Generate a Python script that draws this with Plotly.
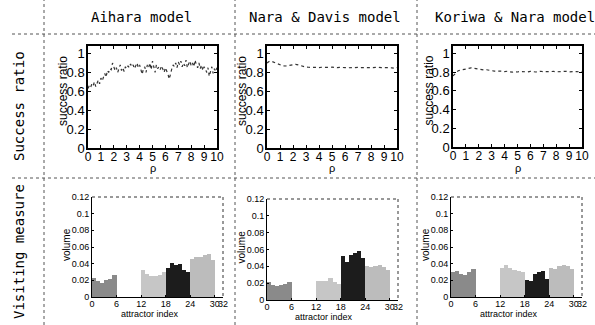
import plotly.graph_objects as go

W, H = 595, 325

MODELS = ["Aihara model", "Nara & Davis model", "Koriwa & Nara model"]
ROW_LABELS = ["Success ratio", "Visiting measure"]

# success ratio vs rho (sampled from p = 0 with fixed step)
P_STEP_AIHARA = 0.1
SR_AIHARA = [
    0.63, 0.66, 0.64, 0.68, 0.66, 0.70, 0.65, 0.69, 0.72, 0.68, 0.74,
    0.71, 0.76, 0.79, 0.75, 0.82, 0.80, 0.84, 0.83, 0.90, 0.86,
    0.82, 0.85, 0.80, 0.84, 0.88, 0.82, 0.85, 0.81, 0.86, 0.84,
    0.87, 0.85, 0.89, 0.86, 0.88, 0.84, 0.87, 0.90, 0.85, 0.88,
    0.83, 0.78, 0.84, 0.86, 0.80, 0.88, 0.85, 0.90, 0.83, 0.92,
    0.86, 0.80, 0.88, 0.84, 0.86, 0.83, 0.87, 0.84, 0.80, 0.85,
    0.82, 0.78, 0.73, 0.80, 0.84, 0.88, 0.86, 0.90, 0.85, 0.91,
    0.88, 0.92, 0.86, 0.90, 0.87, 0.93, 0.85, 0.89, 0.92, 0.87,
    0.90, 0.86, 0.93, 0.88, 0.85, 0.90, 0.84, 0.88, 0.82, 0.86,
    0.84, 0.80, 0.85, 0.76, 0.82, 0.86, 0.79, 0.84, 0.81, 0.85,
]
P_STEP_SMOOTH = 0.2
SR_NARA = [
    0.900, 0.920, 0.915, 0.902, 0.888, 0.876, 0.870, 0.868, 0.872, 0.876,
    0.882, 0.886, 0.880, 0.870, 0.862, 0.856, 0.855, 0.853, 0.856, 0.854,
    0.852, 0.855, 0.853, 0.851, 0.854, 0.856, 0.852, 0.850, 0.853, 0.855,
    0.852, 0.849, 0.851, 0.854, 0.856, 0.853, 0.851, 0.854, 0.852, 0.850,
    0.853, 0.855, 0.852, 0.854, 0.851, 0.853, 0.855, 0.852, 0.848, 0.844,
    0.852,
]
SR_KORIWA = [
    0.760, 0.790, 0.815, 0.822, 0.828, 0.834, 0.838, 0.846, 0.842, 0.836,
    0.838, 0.830, 0.824, 0.826, 0.818, 0.816, 0.812, 0.814, 0.808, 0.812,
    0.806, 0.810, 0.804, 0.800, 0.806, 0.802, 0.808, 0.804, 0.806, 0.803,
    0.809, 0.805, 0.802, 0.806, 0.810, 0.804, 0.807, 0.803, 0.806, 0.808,
    0.804, 0.807, 0.803, 0.806, 0.809, 0.804, 0.807, 0.803, 0.806, 0.804,
    0.808,
]

# visiting measure per attractor index (four groups of six)
IDX_A = [0, 1, 2, 3, 4, 5]
IDX_B = [12, 13, 14, 15, 16, 17]
IDX_C = [18, 19, 20, 21, 22, 23]
IDX_D = [24, 25, 26, 27, 28, 29]

VOL_AIHARA = {
    "A": [0.023, 0.019, 0.017, 0.020, 0.022, 0.026],
    "B": [0.032, 0.028, 0.025, 0.025, 0.027, 0.030],
    "C": [0.035, 0.041, 0.038, 0.040, 0.033, 0.030],
    "D": [0.046, 0.048, 0.048, 0.050, 0.052, 0.045],
}
VOL_NARA = {
    "A": [0.021, 0.018, 0.017, 0.018, 0.019, 0.021],
    "B": [0.022, 0.023, 0.023, 0.026, 0.021, 0.019],
    "C": [0.052, 0.045, 0.053, 0.056, 0.058, 0.050],
    "D": [0.040, 0.039, 0.040, 0.041, 0.039, 0.036],
}
VOL_KORIWA = {
    "A": [0.030, 0.031, 0.028, 0.027, 0.030, 0.034],
    "B": [0.035, 0.038, 0.035, 0.032, 0.031, 0.030],
    "C": [0.020, 0.019, 0.028, 0.030, 0.031, 0.022],
    "D": [0.035, 0.034, 0.037, 0.038, 0.037, 0.034],
}

SR_TICKS = [0, 0.2, 0.4, 0.6, 0.8, 1]
SR_TICKTEXT = ["0", "0.2", "0.4", "0.6", "0.8", "1"]
P_TICKS = [0, 1, 2, 3, 4, 5, 6, 7, 8, 9, 10]
VOL_TICKS = [0, 0.02, 0.04, 0.06, 0.08, 0.1, 0.12]
VOL_TICKTEXT = ["0", "0.02", "0.04", "0.06", "0.08", "0.1", "0.12"]
IDX_TICKS = [0, 6, 12, 18, 24, 30, 32]

GROUP_COLORS = {"A": "#8a8a8a", "B": "#c6c6c6", "C": "#1c1c1c", "D": "#bcbcbc"}
GROUP_IDX = {"A": IDX_A, "B": IDX_B, "C": IDX_C, "D": IDX_D}

# pixel boxes (left, right, top, bottom)
TOP_BOX = [(88, 217, 46, 148), (267, 397, 46, 148), (453, 582, 46, 147)]
BOT_BOX = [(92, 223, 197, 297), (267, 398, 199, 300), (451, 582, 197, 297)]

NARROW = "Liberation Sans Narrow, Liberation Sans"


def xp(px):
    return px / W


def yp(py):
    return 1 - py / H


def ann(text, px, py, size, family=NARROW, angle=0):
    return dict(text=text, x=xp(px), y=yp(py), xref="paper", yref="paper",
                xanchor="center", yanchor="middle", textangle=angle,
                showarrow=False, font=dict(size=size, family=family))


fig = go.Figure()
layout = dict(
    template="none",
    width=W, height=H, margin=dict(l=0, r=0, t=0, b=0, pad=0, autoexpand=False),
    paper_bgcolor="white", plot_bgcolor="white", showlegend=False,
    font=dict(family="Liberation Sans", color="black"),
)

sr_data = [(SR_AIHARA, P_STEP_AIHARA), (SR_NARA, P_STEP_SMOOTH), (SR_KORIWA, P_STEP_SMOOTH)]
vol_data = [VOL_AIHARA, VOL_NARA, VOL_KORIWA]
annotations = []
shapes = []

for i in range(3):
    # ---- top: success ratio
    n = 2 * i + 1
    xa = "x" if n == 1 else f"x{n}"
    ya = "y" if n == 1 else f"y{n}"
    l, r, t, b = TOP_BOX[i]
    ys, step = sr_data[i]
    fig.add_trace(go.Scatter(
        y=ys, x0=0, dx=step, mode="lines",
        line=dict(color="#333333", width=1.2, dash="dot"),
        xaxis=xa, yaxis=ya,
    ))
    layout[f"xaxis{n}" if n > 1 else "xaxis"] = dict(
        domain=[xp(l), xp(r)], anchor=ya, range=[0, 10], automargin=False,
        tickvals=P_TICKS, tickangle=0, ticks="inside", ticklen=3, tickcolor="black",
        ticklabelstandoff=-3,
        showline=True, linecolor="black", linewidth=1.5, mirror="ticks",
        showgrid=False, zeroline=False,
        tickfont=dict(size=12, family=NARROW),
    )
    layout[f"yaxis{n}" if n > 1 else "yaxis"] = dict(
        domain=[yp(b), yp(t)], anchor=xa, range=[0, 1.08], automargin=False,
        tickvals=SR_TICKS, ticktext=SR_TICKTEXT, ticks="inside", ticklen=3,
        tickcolor="black", ticklabelstandoff=-1,
        showline=True, linecolor="black", linewidth=1.5, mirror="ticks",
        showgrid=False, zeroline=False,
        tickfont=dict(size=13, family=NARROW),
    )
    annotations.append(ann("success ratio", l - 25, (t + b) / 2 - 6, 12, angle=-90))
    annotations.append(ann("ρ", (l + r) / 2, 168, 11))

    # ---- bottom: visiting measure
    n = 2 * i + 2
    xa = f"x{n}"
    ya = f"y{n}"
    l, r, t, b = BOT_BOX[i]
    vols = vol_data[i]
    for g in ["A", "B", "C", "D"]:
        fig.add_trace(go.Bar(
            x=GROUP_IDX[g], y=vols[g], width=1, offset=0,
            marker=dict(color=GROUP_COLORS[g], line=dict(width=0)),
            xaxis=xa, yaxis=ya,
        ))
    layout[f"xaxis{n}"] = dict(
        domain=[xp(l), xp(r)], anchor=ya, range=[0, 32], automargin=False,
        tickvals=IDX_TICKS, tickangle=0, ticks="inside", ticklen=2, tickcolor="black",
        ticklabelstandoff=-2,
        showline=True, linecolor="black", linewidth=1, mirror=False,
        showgrid=False, zeroline=False,
        tickfont=dict(size=9, family=NARROW),
    )
    layout[f"yaxis{n}"] = dict(
        domain=[yp(b), yp(t)], anchor=xa, range=[0, 0.12], automargin=False,
        tickvals=VOL_TICKS, ticktext=VOL_TICKTEXT, ticks="inside", ticklen=2,
        tickcolor="black",
        showline=True, linecolor="black", linewidth=1, mirror=False,
        showgrid=False, zeroline=False,
        tickfont=dict(size=9, family=NARROW),
    )
    shapes.append(dict(type="line", xref="paper", yref="paper",
                       x0=xp(l), x1=xp(r), y0=yp(t), y1=yp(t),
                       line=dict(color="#333", width=1, dash="dot")))
    shapes.append(dict(type="line", xref="paper", yref="paper",
                       x0=xp(r), x1=xp(r), y0=yp(t), y1=yp(b),
                       line=dict(color="#333", width=1, dash="dot")))
    annotations.append(ann("volume", l - 26, (t + b) / 2 - 2, 10, angle=-90))
    annotations.append(ann("attractor index", (l + r) / 2 - 8, b + 17, 9))

# column titles
for cx, title in zip([141, 325, 515], MODELS):
    annotations.append(ann(title, cx, 17, 14, family="DejaVu Sans Mono"))
# row labels
for cy, lab in zip([106, 252], ROW_LABELS):
    annotations.append(ann(lab, 19, cy, 14, family="DejaVu Sans Mono", angle=-90))

# dotted table separators
for vx in [44, 235, 417]:
    shapes.append(dict(type="line", xref="paper", yref="paper",
                       x0=xp(vx), x1=xp(vx), y0=0, y1=1,
                       line=dict(color="#555", width=1, dash="dot")))
for hy in [34, 178]:
    shapes.append(dict(type="line", xref="paper", yref="paper",
                       x0=xp(12), x1=1, y0=yp(hy), y1=yp(hy),
                       line=dict(color="#555", width=1, dash="dot")))

layout["annotations"] = annotations
layout["shapes"] = shapes
layout["bargap"] = 0
fig.update_layout(**layout)
fig.write_html("out.html", config={"displayModeBar": False},
               post_script="document.body.style.margin='0';")
